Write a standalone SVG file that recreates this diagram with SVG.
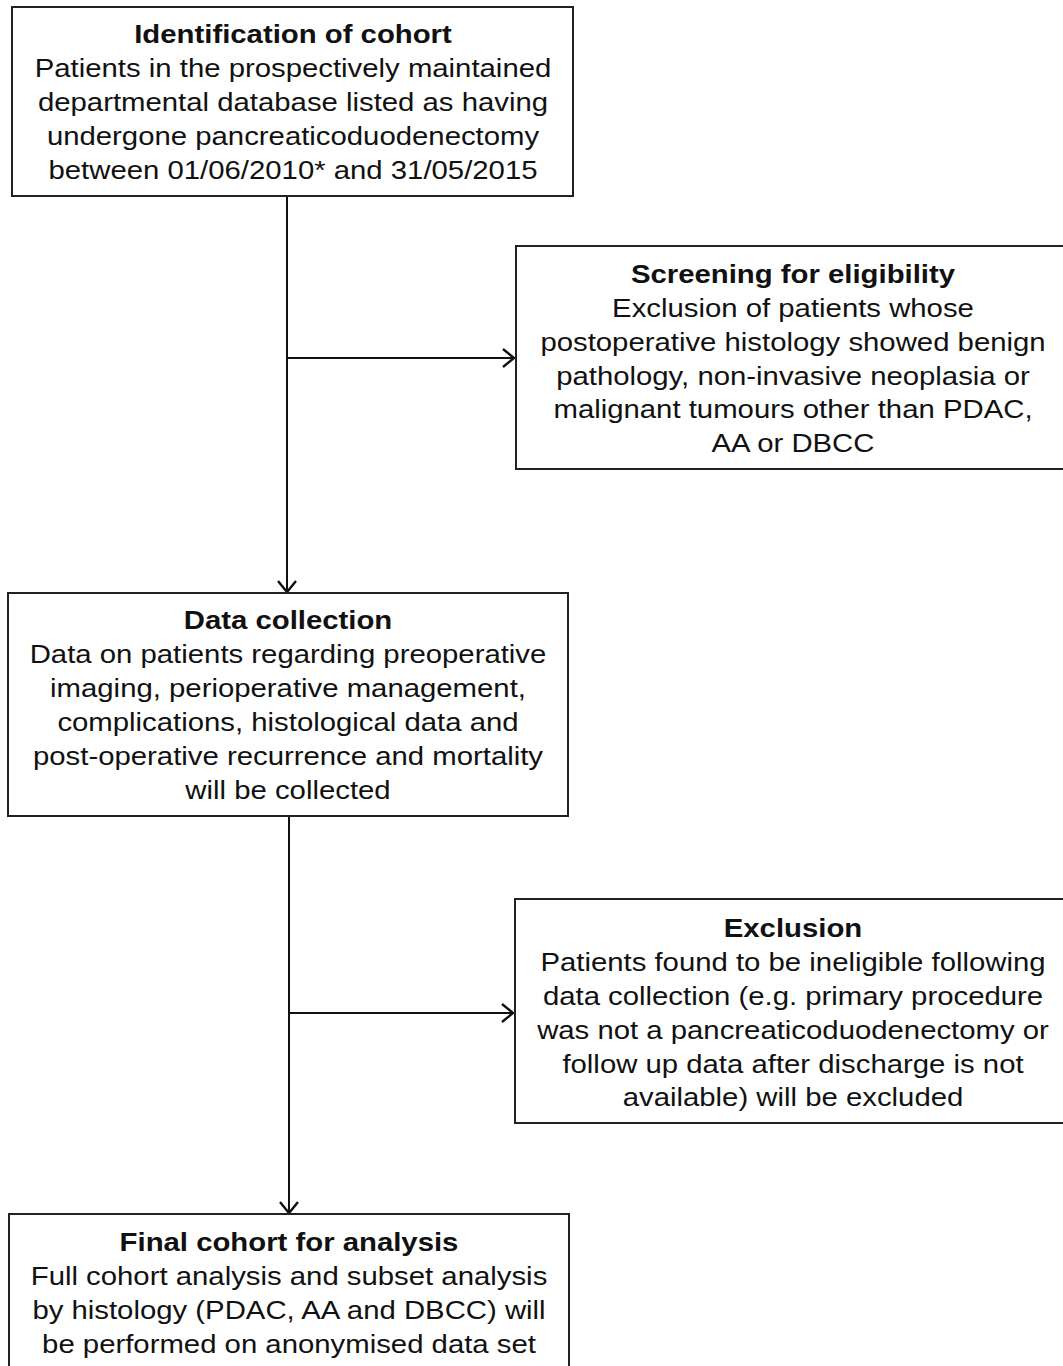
<svg xmlns="http://www.w3.org/2000/svg" width="1063" height="1366" viewBox="0 0 1063 1366">
<defs>
<marker id="arr" markerWidth="16" markerHeight="22" refX="13" refY="11" orient="auto" markerUnits="userSpaceOnUse">
<path d="M2,2 L13,11 L2,20" fill="none" stroke="#111" stroke-width="2.4"/>
</marker>
<style>
.box{fill:#fff;stroke:#222;stroke-width:2}
.t{font-family:"Liberation Sans",Arial,sans-serif;font-size:26px;fill:#111;text-anchor:middle}
.b{font-weight:bold}
.c{stroke:#111;stroke-width:2;fill:none}
</style>
</defs>
<rect width="1063" height="1366" fill="#fff"/>
<g id="connectors">
<line class="c" x1="287" y1="196" x2="287" y2="592" marker-end="url(#arr)"/>
<line class="c" x1="287" y1="358" x2="514" y2="358" marker-end="url(#arr)"/>
<line class="c" x1="289" y1="816" x2="289" y2="1213" marker-end="url(#arr)"/>
<line class="c" x1="289" y1="1013" x2="513" y2="1013" marker-end="url(#arr)"/>
</g>
<g id="identification">
<rect class="box" x="12" y="7" width="561" height="189"/>
<g transform="translate(293,0) scale(1.128,1)">
<text class="t b" x="0" y="43">Identification of cohort</text>
<text class="t" x="0" y="77">Patients in the prospectively maintained</text>
<text class="t" x="0" y="111">departmental database listed as having</text>
<text class="t" x="0" y="145">undergone pancreaticoduodenectomy</text>
<text class="t" x="0" y="179">between 01/06/2010* and 31/05/2015</text>
</g>
</g>
<g id="screening">
<rect class="box" x="516" y="246" width="556" height="223"/>
<g transform="translate(793,0) scale(1.128,1)">
<text class="t b" x="0" y="283">Screening for eligibility</text>
<text class="t" x="0" y="317">Exclusion of patients whose</text>
<text class="t" x="0" y="351">postoperative histology showed benign</text>
<text class="t" x="0" y="385">pathology, non-invasive neoplasia or</text>
<text class="t" x="0" y="418">malignant tumours other than PDAC,</text>
<text class="t" x="0" y="452">AA or DBCC</text>
</g>
</g>
<g id="datacollection">
<rect class="box" x="8" y="593" width="560" height="223"/>
<g transform="translate(288,0) scale(1.128,1)">
<text class="t b" x="0" y="629">Data collection</text>
<text class="t" x="0" y="663">Data on patients regarding preoperative</text>
<text class="t" x="0" y="697">imaging, perioperative management,</text>
<text class="t" x="0" y="731">complications, histological data and</text>
<text class="t" x="0" y="765">post-operative recurrence and mortality</text>
<text class="t" x="0" y="799">will be collected</text>
</g>
</g>
<g id="exclusion">
<rect class="box" x="515" y="899" width="556" height="224"/>
<g transform="translate(793,0) scale(1.128,1)">
<text class="t b" x="0" y="937">Exclusion</text>
<text class="t" x="0" y="971">Patients found to be ineligible following</text>
<text class="t" x="0" y="1005">data collection (e.g. primary procedure</text>
<text class="t" x="0" y="1039">was not a pancreaticoduodenectomy or</text>
<text class="t" x="0" y="1073">follow up data after discharge is not</text>
<text class="t" x="0" y="1106">available) will be excluded</text>
</g>
</g>
<g id="final">
<rect class="box" x="9" y="1214" width="560" height="170"/>
<g transform="translate(289,0) scale(1.128,1)">
<text class="t b" x="0" y="1251">Final cohort for analysis</text>
<text class="t" x="0" y="1285">Full cohort analysis and subset analysis</text>
<text class="t" x="0" y="1319">by histology (PDAC, AA and DBCC) will</text>
<text class="t" x="0" y="1353">be performed on anonymised data set</text>
</g>
</g>
</svg>
